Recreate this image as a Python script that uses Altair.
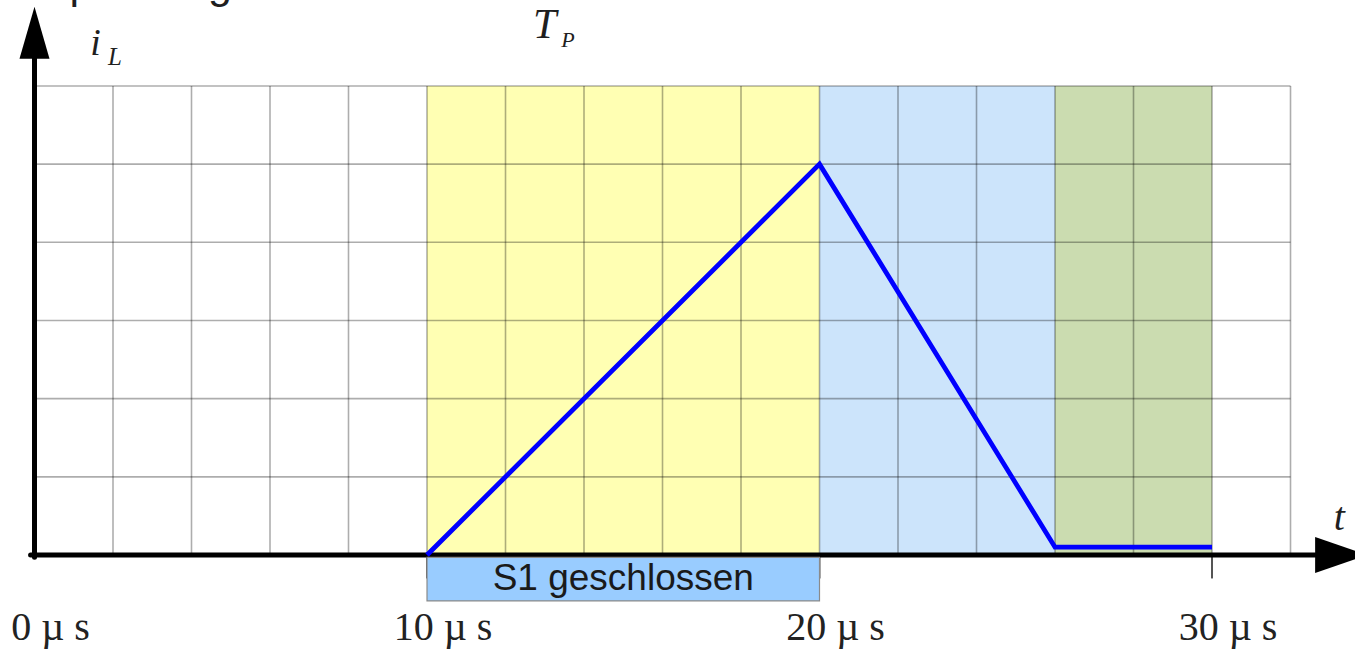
import altair as alt
import pandas as pd

# Inductor current i_L over one switching period (time in µs, current in grid units)
t_us = [10, 20, 26, 30]
i_l = [0, 5, 0.1, 0.1]

# Switching phases shown as coloured bands
phase_start = [10, 20, 26]
phase_end = [20, 26, 30]
phase_fill = ["#FFFFB3", "#CCE4FB", "#CBDCB0"]

# Grid
grid_t = list(range(2, 34, 2))
grid_i = [1, 2, 3, 4, 5, 6]
grid_top = 6
grid_right = 32

# Time axis labels
tick_t = [0, 10, 20, 30]
tick_text = ["0 µ s", "10 µ s", "20 µ s", "30 µ s"]

# Interval where switch S1 is closed
switch_label = "S1 geschlossen"
switch_from = [10]
switch_to = [20]

title_text = "Anpassung der Pulsweite"

xs = alt.Scale(domain=[-0.879, 33.643], nice=False, zero=False)
ys = alt.Scale(domain=[-1.2025, 7.100], nice=False, zero=False)


def X(f):
    return alt.X(f, type="quantitative", scale=xs, axis=None)


def Y(f):
    return alt.Y(f, type="quantitative", scale=ys, axis=None)


phases = alt.Chart(pd.DataFrame({
    "a": phase_start, "b": phase_end, "fill": phase_fill,
    "lo": [0] * 3, "hi": [grid_top] * 3,
})).mark_rect(opacity=1).encode(
    x=X("a"), x2="b", y=Y("lo"), y2="hi",
    color=alt.Color("fill:N", scale=None),
)

grid_v = alt.Chart(pd.DataFrame({
    "t": grid_t, "lo": [0] * len(grid_t), "hi": [grid_top] * len(grid_t),
})).mark_rule(color="#000000", opacity=0.32, strokeWidth=1.6).encode(
    x=X("t"), y=Y("lo"), y2="hi",
)

grid_h = alt.Chart(pd.DataFrame({
    "v": grid_i, "a": [0] * len(grid_i), "b": [grid_right] * len(grid_i),
})).mark_rule(color="#000000", opacity=0.32, strokeWidth=1.6).encode(
    y=Y("v"), x=X("a"), x2="b",
)

ticks = alt.Chart(pd.DataFrame({
    "t": tick_t[1:], "lo": [0] * 3, "hi": [-0.3] * 3,
})).mark_rule(color="#555555", strokeWidth=2).encode(
    x=X("t"), y=Y("lo"), y2="hi",
)

axis_x = alt.Chart(pd.DataFrame({"a": [-0.1], "b": [32.8], "v": [0]})).mark_rule(
    color="black", strokeWidth=5, strokeCap="round"
).encode(x=X("a"), x2="b", y=Y("v"))

axis_y = alt.Chart(pd.DataFrame({"t": [0], "lo": [-0.03], "hi": [6.4]})).mark_rule(
    color="black", strokeWidth=5, strokeCap="round"
).encode(x=X("t"), y=Y("lo"), y2="hi")

arrow_up = alt.Chart(pd.DataFrame({"t": [0], "v": [6.68]})).mark_point(
    shape="M0,-1L0.577,1L-0.577,1Z", size=2704, filled=True,
    color="black", opacity=1, strokeWidth=0,
).encode(x=X("t"), y=Y("v"))

arrow_right = alt.Chart(pd.DataFrame({"t": [33.29], "v": [0]})).mark_point(
    shape="M1,0L-1,-0.69L-1,0.69Z", size=2704, filled=True,
    color="black", opacity=1, strokeWidth=0,
).encode(x=X("t"), y=Y("v"))

current = alt.Chart(pd.DataFrame({"t": t_us, "i": i_l})).mark_line(
    color="#0000FF", strokeWidth=4.8
).encode(x=X("t"), y=Y("i"))

box_df = pd.DataFrame({
    "a": switch_from, "b": switch_to, "lo": [-0.03], "hi": [-0.588],
    "mid": [(switch_from[0] + switch_to[0]) / 2], "vm": [-0.307],
    "label": [switch_label],
})
box = alt.Chart(box_df).mark_rect(
    fill="#99CCFF", stroke="#8a8a8a", strokeWidth=1.2, opacity=1
).encode(x=X("a"), x2="b", y=Y("lo"), y2="hi")

box_text = alt.Chart(box_df).mark_text(
    font="Liberation Sans", fontSize=37, color="#1a1a1a", baseline="middle"
).encode(x=X("mid"), y=Y("vm"), text="label:N")

labels = alt.Chart(pd.DataFrame({
    "t": tick_t, "v": [-1.087] * 4, "label": tick_text,
})).mark_text(
    font="Liberation Serif", fontSize=40, color="#222222",
    align="center", baseline="alphabetic", dx=16,
).encode(x=X("t"), y=Y("v"), text="label:N")


def note(text, t, v, size, italic=True, font="Liberation Serif"):
    return alt.Chart(pd.DataFrame({"t": [t], "v": [v], "s": [text]})).mark_text(
        font=font, fontSize=size, fontStyle="italic" if italic else "normal",
        color="#1f1f1f", align="left", baseline="alphabetic",
    ).encode(x=X("t"), y=Y("v"), text="s:N")


notes = [
    note("i", 1.42, 6.40, 38),
    note("L", 1.87, 6.27, 25),
    note("T", 12.70, 6.62, 42),
    note("P", 13.42, 6.50, 22),
    note("t", 33.10, 0.32, 40),
    note(title_text, -0.45, 7.13, 43, italic=False, font="Liberation Sans"),
]

chart = alt.layer(
    phases, grid_v, grid_h, ticks, axis_x, axis_y, arrow_up, arrow_right,
    current, box, box_text, labels, *notes,
).properties(
    width=1355, height=649, padding=0,
    autosize=alt.AutoSizeParams(type="none"),
    background="white",
).configure_view(stroke=None)

chart.save("out.html", embed_options={"renderer": "svg", "actions": False})
